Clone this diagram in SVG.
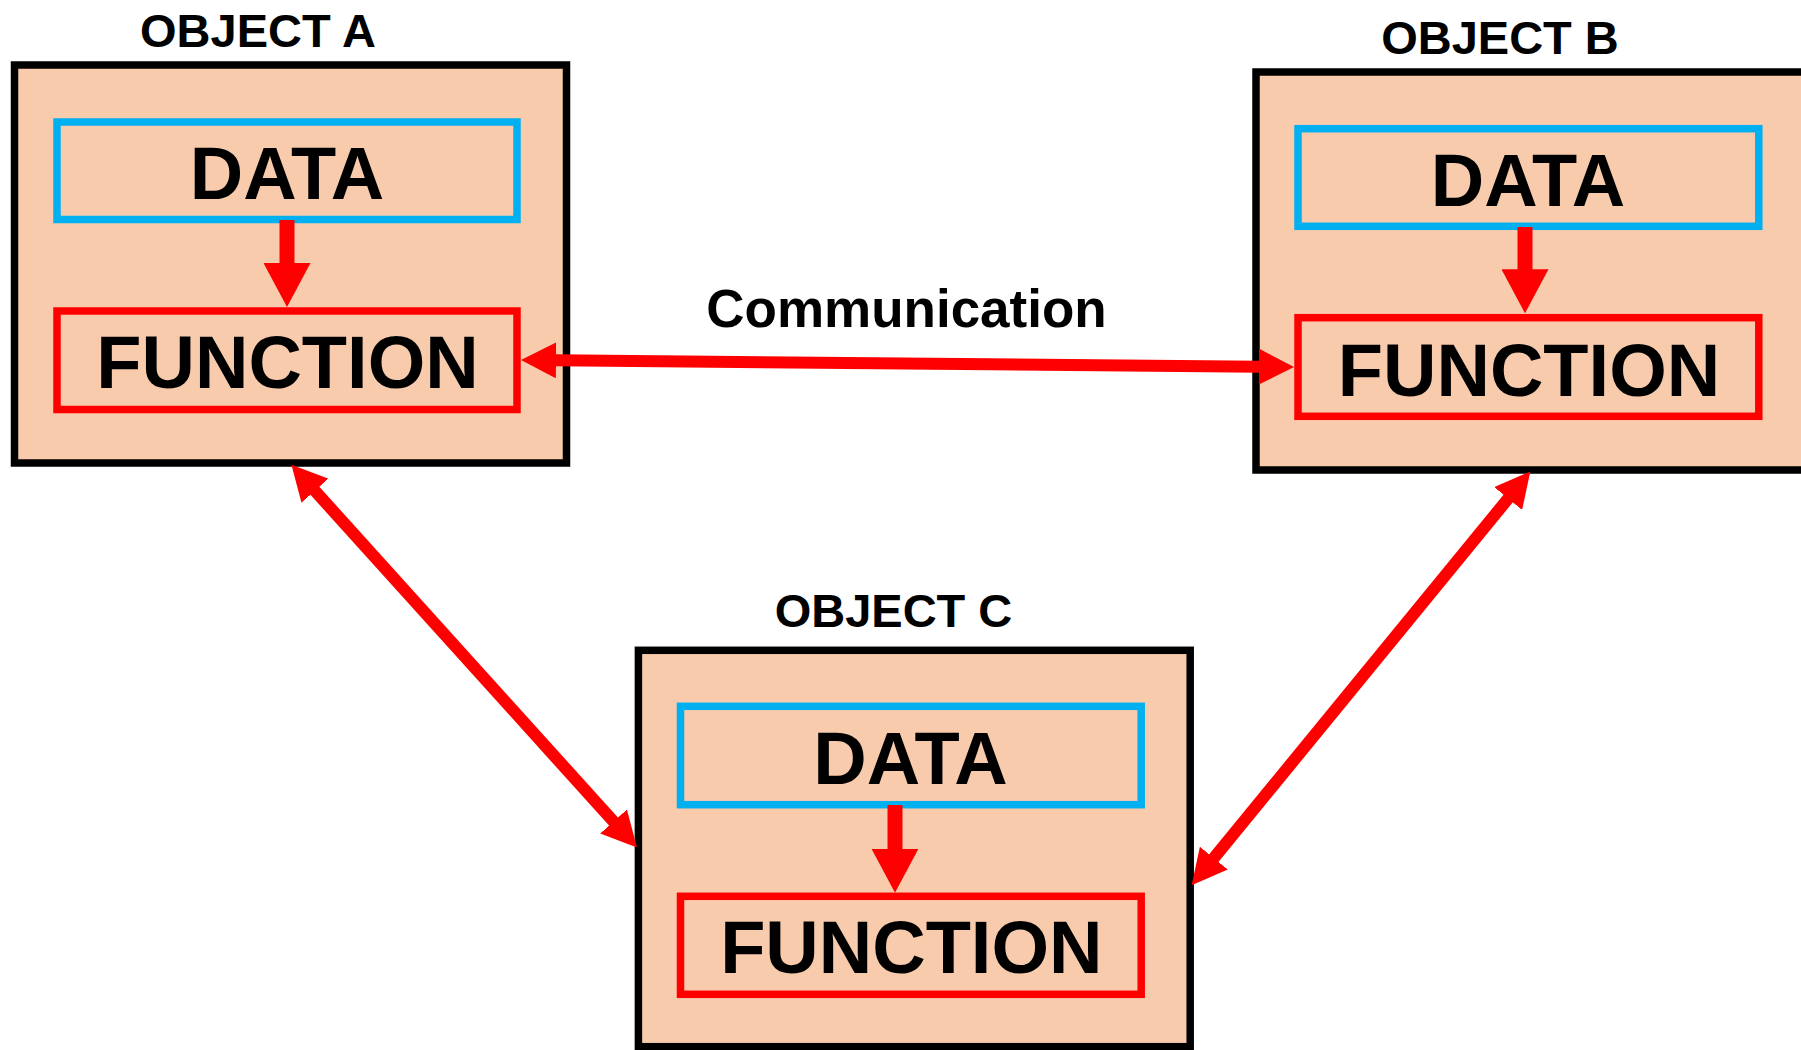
<svg xmlns="http://www.w3.org/2000/svg" width="1801" height="1050" viewBox="0 0 1801 1050">
  <style>
    .obj { fill: #F8CBAD; stroke: #000000; stroke-width: 7.5; }
    .data { fill: none; stroke: #00B0F0; stroke-width: 7.5; }
    .func { fill: none; stroke: #FF0000; stroke-width: 7.5; }
    .title { font-family: "Liberation Sans", Arial, sans-serif; font-weight: bold; font-size: 47px; fill: #000000; text-anchor: middle; }
    .big { font-family: "Liberation Sans", Arial, sans-serif; font-weight: bold; font-size: 74px; fill: #000000; text-anchor: middle; }
    .label { font-family: "Liberation Sans", Arial, sans-serif; font-weight: bold; font-size: 53px; fill: #000000; text-anchor: middle; }
    .flow { stroke: #FF0000; stroke-width: 15; fill: none; marker-end: url(#headBig); }
    .link { stroke: #FF0000; stroke-width: 12; fill: none; marker-start: url(#head); marker-end: url(#head); }
  </style>
  <defs>
    <!-- head drawn from its base (x=0) forward to the tip -->
    <marker id="headBig" viewBox="0 -23.5 44 47" refX="1" refY="0" markerWidth="44" markerHeight="47" markerUnits="userSpaceOnUse" orient="auto">
      <path d="M0,-23.5 L44,0 L0,23.5 z" fill="#FF0000"/>
    </marker>
    <marker id="head" viewBox="0 -18 35 36" refX="1" refY="0" markerWidth="35" markerHeight="36" markerUnits="userSpaceOnUse" orient="auto-start-reverse">
      <path d="M0,-18 L35,0 L0,18 z" fill="#FF0000"/>
    </marker>
  </defs>

  <rect width="1801" height="1050" fill="#FFFFFF"/>

  <g id="object-a">
    <text class="title" x="258" y="47">OBJECT A</text>
    <rect class="obj" x="14.5" y="65" width="552" height="398"/>
    <rect class="data" x="57" y="122" width="460" height="97.5"/>
    <text class="big" x="287" y="199">DATA</text>
    <rect class="func" x="57" y="311" width="460" height="98.5"/>
    <text class="big" x="287.5" y="388">FUNCTION</text>
    <line class="flow" x1="287" y1="220" x2="287" y2="264"/>
  </g>

  <g id="object-b">
    <text class="title" x="1500" y="54">OBJECT B</text>
    <rect class="obj" x="1256" y="72" width="560" height="398"/>
    <rect class="data" x="1298" y="128.7" width="460.8" height="97.6"/>
    <text class="big" x="1528" y="205.7">DATA</text>
    <rect class="func" x="1298" y="317.7" width="460.8" height="98.6"/>
    <text class="big" x="1529" y="395.7">FUNCTION</text>
    <line class="flow" x1="1525" y1="227" x2="1525" y2="270.3"/>
  </g>

  <g id="object-c">
    <text class="title" x="893.5" y="627.3">OBJECT C</text>
    <rect class="obj" x="638.4" y="650.3" width="551.8" height="396.4"/>
    <rect class="data" x="680.5" y="706.3" width="460.7" height="98.4"/>
    <text class="big" x="910.5" y="784">DATA</text>
    <rect class="func" x="680.5" y="896.3" width="460.7" height="98"/>
    <text class="big" x="911.3" y="973.3">FUNCTION</text>
    <line class="flow" x1="895" y1="805" x2="895" y2="849.7"/>
  </g>

  <g id="connectors">
    <line class="link" x1="555" y1="360.3" x2="1260" y2="366.7"/>
    <text class="label" x="906.5" y="326.7">Communication</text>
    <line class="link" x1="314.2" y1="490" x2="614.2" y2="822.3"/>
    <line class="link" x1="1508.8" y1="497.8" x2="1213.2" y2="858.9"/>
  </g>
</svg>
